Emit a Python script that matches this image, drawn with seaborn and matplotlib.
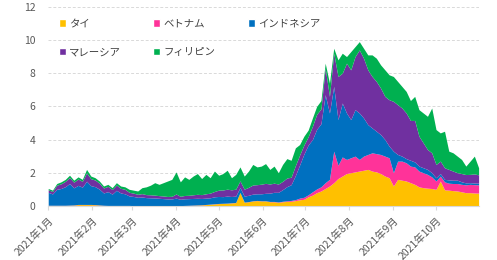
import matplotlib
matplotlib.use("Agg")
import matplotlib.pyplot as plt
from matplotlib.patches import Patch
import seaborn as sns
import pandas as pd

# ---- data (every 3 days, 2021-01-01 .. 2021-10-31) ----
dates = pd.date_range("2021-01-01", periods=102, freq="3D")

thai = [0.03, 0.03, 0.03, 0.03, 0.03, 0.04, 0.05, 0.08, 0.08, 0.08,
        0.08, 0.07, 0.05, 0.03, 0.02, 0.02, 0.02, 0.02, 0.02, 0.02,
        0.01, 0.01, 0.01, 0.01, 0.01, 0.01, 0.01, 0.01, 0.01, 0.01,
        0.01, 0.01, 0.02, 0.03, 0.04, 0.05, 0.06, 0.08, 0.10, 0.12,
        0.14, 0.15, 0.16, 0.18, 0.20, 0.80, 0.22, 0.25, 0.30, 0.32,
        0.30, 0.30, 0.25, 0.25, 0.22, 0.25, 0.27, 0.28, 0.32, 0.37,
        0.40, 0.55, 0.65, 0.80, 0.90, 1.05, 1.20, 1.40, 1.65, 1.80,
        1.95, 2.00, 2.05, 2.10, 2.15, 2.20, 2.10, 2.05, 1.95, 1.80,
        1.70, 1.20, 1.60, 1.55, 1.50, 1.40, 1.30, 1.15, 1.10, 1.07,
        1.05, 1.00, 1.50, 0.97, 0.95, 0.92, 0.90, 0.85, 0.80, 0.80,
        0.78, 0.77]
vietnam = [0.01] * 52 + [
        0.02, 0.02, 0.02, 0.03, 0.04, 0.05, 0.06, 0.10,
        0.12, 0.12, 0.20, 0.22, 0.25, 0.35, 0.40, 1.90, 0.80, 1.15,
        0.85, 0.90, 0.95, 0.70, 0.85, 0.90, 1.10, 1.10, 1.15, 1.20,
        1.20, 0.80, 1.10, 1.15, 1.10, 1.00, 1.05, 0.95, 0.90, 0.83,
        0.70, 0.50, 0.30, 0.48, 0.42, 0.43, 0.45, 0.45, 0.47, 0.50,
        0.50, 0.50]
indonesia = [0.78, 0.68, 0.96, 1.01, 1.12, 1.30, 1.03, 1.15, 1.04, 1.40,
        1.13, 1.08, 0.95, 0.74, 0.83, 0.68, 0.91, 0.75, 0.70, 0.57,
        0.55, 0.50, 0.52, 0.48, 0.47, 0.46, 0.44, 0.42, 0.40, 0.40,
        0.45, 0.38, 0.40, 0.40, 0.40, 0.40, 0.38, 0.38, 0.38, 0.42,
        0.42, 0.40, 0.42, 0.38, 0.38, 0.30, 0.36, 0.38, 0.40, 0.40,
        0.42, 0.45, 0.50, 0.55, 0.58, 0.70, 0.85, 0.95, 1.45, 2.00,
        2.60, 3.00, 3.15, 3.60, 3.80, 5.30, 4.00, 3.90, 2.75, 3.25,
        2.80, 2.30, 2.80, 2.80, 2.30, 1.80, 1.50, 1.35, 1.20, 1.00,
        0.70, 1.30, 0.40, 0.30, 0.25, 0.35, 0.30, 0.30, 0.30, 0.30,
        0.25, 0.20, 0.15, 0.15, 0.20, 0.20, 0.20, 0.15, 0.12, 0.10,
        0.10, 0.10]
malaysia = [0.15, 0.15, 0.25, 0.28, 0.32, 0.36, 0.34, 0.38, 0.35, 0.50,
        0.42, 0.40, 0.36, 0.30, 0.32, 0.28, 0.32, 0.28, 0.27, 0.22,
        0.20, 0.18, 0.20, 0.18, 0.18, 0.17, 0.16, 0.16, 0.15, 0.16,
        0.25, 0.18, 0.20, 0.20, 0.22, 0.24, 0.23, 0.26, 0.28, 0.32,
        0.38, 0.40, 0.42, 0.40, 0.42, 0.40, 0.42, 0.48, 0.55, 0.55,
        0.58, 0.60, 0.55, 0.55, 0.50, 0.50, 0.52, 0.45, 0.60, 0.60,
        0.55, 0.50, 0.80, 0.90, 0.90, 1.60, 1.00, 2.00, 2.60, 1.80,
        3.00, 3.00, 3.20, 3.80, 3.60, 3.30, 3.10, 3.00, 2.80, 2.60,
        2.80, 3.00, 3.00, 2.90, 2.75, 2.40, 2.50, 1.80, 1.50, 1.20,
        1.20, 0.80, 0.75, 0.70, 0.63, 0.55, 0.45, 0.50, 0.50, 0.50,
        0.55, 0.50]
philippines = [0.08, 0.08, 0.10, 0.12, 0.12, 0.14, 0.12, 0.13, 0.12, 0.21,
        0.16, 0.14, 0.13, 0.12, 0.12, 0.11, 0.14, 0.14, 0.15, 0.18,
        0.18, 0.20, 0.36, 0.47, 0.58, 0.75, 0.68, 0.80, 0.93, 1.02,
        1.33, 0.87, 1.12, 0.96, 1.13, 1.25, 0.97, 1.17, 0.93, 1.23,
        0.90, 0.99, 1.14, 0.73, 0.89, 0.84, 0.79, 0.98, 1.24, 1.07,
        1.09, 1.19, 0.88, 1.03, 0.68, 1.02, 1.17, 1.02, 1.07, 0.63,
        0.53, 0.40, 0.50, 0.48, 0.50, 0.30, 0.80, 0.30, 1.00, 1.20,
        0.40, 1.10, 0.60, 0.50, 0.60, 0.90, 1.30, 1.40, 1.40, 1.60,
        1.50, 1.50, 1.40, 1.30, 1.30, 1.20, 1.45, 1.60, 1.80, 2.00,
        2.70, 2.10, 1.70, 2.20, 1.10, 1.10, 1.00, 0.85, 0.51, 0.80,
        1.07, 0.43]

labels = ["タイ", "ベトナム", "インドネシア", "マレーシア", "フィリピン"]
colors = ["#FFC000", "#FF3399", "#0070C0", "#7030A0", "#00B050"]
month_ticks = pd.date_range("2021-01-01", "2021-10-01", freq="MS")
month_labels = [f"2021年{m}月" for m in range(1, 11)]

df = pd.DataFrame({"date": dates, labels[0]: thai, labels[1]: vietnam,
                   labels[2]: indonesia, labels[3]: malaysia, labels[4]: philippines})

# ---- plot ----
sns.set_style("white")
plt.rcParams["font.family"] = ["Noto Sans CJK JP", "DejaVu Sans"]

fig = plt.figure(figsize=(4.97, 2.6), dpi=100)
ax = fig.add_axes([0.097, 0.208, 0.866, 0.766])

ax.stackplot(df["date"], [df[l] for l in labels], colors=colors, linewidth=0)

ax.set_ylim(0, 12)
ax.set_yticks(range(0, 13, 2))
ax.set_xlim(pd.Timestamp("2021-01-01"), pd.Timestamp("2021-10-31"))
ax.set_xticks(month_ticks)
ax.set_xticklabels(month_labels, rotation=45, ha="right", rotation_mode="anchor")

ax.grid(axis="y", color="#d9d9d9", linestyle=(0, (3, 2)), linewidth=0.7)
ax.set_axisbelow(True)
sns.despine(ax=ax, left=True)
ax.spines["bottom"].set_color("#d9d9d9")
ax.tick_params(axis="y", length=0, pad=9, labelsize=7.5, labelcolor="#595959")
ax.tick_params(axis="x", length=3, color="#d9d9d9", pad=3.5, labelsize=7.5,
               labelcolor="#595959", bottom=True)

handles = [Patch(facecolor=c, label=l) for c, l in zip(colors, labels)]
order = [0, 3, 1, 4, 2]
ax.legend([handles[i] for i in order], [labels[i] for i in order],
          ncol=3, loc="upper left", bbox_to_anchor=(0.024, 0.94),
          frameon=False, fontsize=7.5, handlelength=0.7, handleheight=0.7,
          handletextpad=0.3, labelspacing=1.8, columnspacing=3.1,
          borderaxespad=0, borderpad=0, labelcolor="#404040")

fig.savefig("out.png", dpi=100)
